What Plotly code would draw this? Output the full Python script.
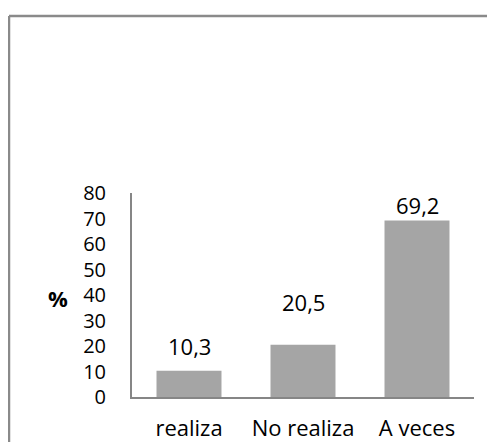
import plotly.graph_objects as go

categories = ["realiza", "No realiza", "A veces"]
values = [10.3, 20.5, 69.2]
value_labels = ["10,3", "20,5", "69,2"]
y_ticks = [0, 10, 20, 30, 40, 50, 60, 70, 80]
label_shift = [25, 43, 16]  # px offsets of data labels above bar tops (style)

W, H = 495, 442
OFF = 8  # page body margin
# target screen geometry of plot area
sx0, sx1, sy0, sy1 = 132, 474, 193, 397
ml, mt = sx0 - OFF, sy0 - OFF
mr, mb = W - (sx1 - OFF), H - (sy1 - OFF)
pw, ph = sx1 - sx0, sy1 - sy0

def px2paper(x, y):
    return (x - sx0) / pw, (sy1 - y) / ph

FONT = "Open Sans"
FS = 22
FS_Y = 20
fig = go.Figure()
fig.add_trace(go.Bar(
    x=categories, y=values,
    marker=dict(color="#a5a5a5", line=dict(width=0)),
    width=0.57,
    hoverinfo="skip",
))

for c, v, t, s in zip(categories, values, value_labels, label_shift):
    fig.add_annotation(x=c, y=v, text=t, showarrow=False, yanchor="middle",
                       yshift=s, font=dict(family=FONT, size=FS, color="#000"))

px, py = px2paper(58, 298)
fig.add_annotation(x=px, y=py, xref="paper", yref="paper", text="<b>%</b>",
                   showarrow=False, xanchor="center", yanchor="middle",
                   font=dict(family=FONT, size=22, color="#000"))

# outer frame (cropped chart border)
x0, y0 = px2paper(9, 470)
x1, y1 = px2paper(530, 16)
fig.add_shape(type="line", xref="paper", yref="paper", x0=x0, y0=y0, x1=x0, y1=y1,
              line=dict(color="#8a8a8a", width=2.5))
fig.add_shape(type="line", xref="paper", yref="paper", x0=x0, y0=y1, x1=x1, y1=y1,
              line=dict(color="#8a8a8a", width=2.5))

fig.update_layout(
    width=W, height=H,
    margin=dict(l=ml, r=mr, t=mt, b=mb, autoexpand=False),
    paper_bgcolor="white", plot_bgcolor="white",
    showlegend=False,
    font=dict(family=FONT, size=FS, color="#000"),
    xaxis=dict(
        range=[-0.5, 2.5], showgrid=False, zeroline=False, automargin=False,
        showline=True, linecolor="#868686", linewidth=2,
        ticks="", ticklabelstandoff=11,
        tickfont=dict(family=FONT, size=FS, color="#000"),
    ),
    yaxis=dict(
        range=[0, 80], tickvals=y_ticks, ticktext=[str(v) for v in y_ticks],
        showgrid=False, zeroline=False, automargin=False,
        showline=True, linecolor="#868686", linewidth=2,
        ticks="", ticklabelstandoff=20,
        tickfont=dict(family=FONT, size=FS_Y, color="#000"),
    ),
)

fig.write_html("out.html")
